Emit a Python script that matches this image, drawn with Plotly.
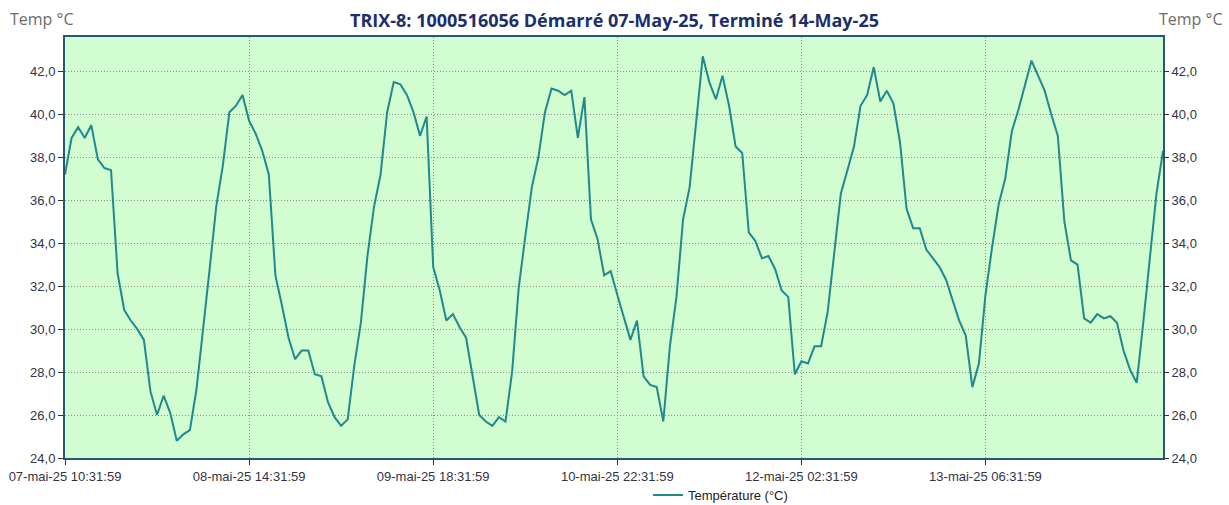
import pandas as pd
import plotly.graph_objects as go

# ---------------- data ----------------
start_time = "2025-05-07 10:31:59"
step_hours = 1

temp_day1 = [37.2, 38.9, 39.4, 38.9, 39.5, 37.9, 37.5, 37.4, 32.6, 30.9, 30.4, 30.0,
             29.5, 27.1, 26.0, 26.9, 26.1, 24.8, 25.1, 25.3, 27.2, 29.9, 32.8, 35.7]
temp_day2 = [37.6, 40.1, 40.4, 40.9, 39.7, 39.1, 38.3, 37.2, 32.5, 31.1, 29.6, 28.6,
             29.0, 29.0, 27.9, 27.8, 26.6, 25.9, 25.5, 25.8, 28.3, 30.3, 33.4, 35.7]
temp_day3 = [37.2, 40.1, 41.5, 41.4, 40.9, 40.1, 39.0, 39.9, 32.9, 31.8, 30.4, 30.7,
             30.1, 29.6, 27.8, 26.0, 25.7, 25.5, 25.9, 25.7, 28.0, 31.9, 34.3, 36.6]
temp_day4 = [38.0, 40.1, 41.2, 41.1, 40.9, 41.1, 38.9, 40.8, 35.1, 34.2, 32.5, 32.7,
             31.6, 30.6, 29.5, 30.4, 27.8, 27.4, 27.3, 25.7, 29.2, 31.5, 35.1, 36.6]
temp_day5 = [39.8, 42.7, 41.5, 40.7, 41.8, 40.4, 38.5, 38.2, 34.5, 34.1, 33.3, 33.4,
             32.8, 31.8, 31.5, 27.9, 28.5, 28.4, 29.2, 29.2, 30.8, 33.6, 36.3, 37.4]
temp_day6 = [38.5, 40.4, 40.9, 42.2, 40.6, 41.1, 40.5, 38.7, 35.6, 34.7, 34.7, 33.7,
             33.3, 32.9, 32.3, 31.3, 30.4, 29.7, 27.3, 28.4, 31.6, 33.8, 35.8, 37.0]
temp_day7 = [39.2, 40.2, 41.3, 42.5, 41.8, 41.1, 40.0, 39.0, 35.0, 33.2, 33.0, 30.5,
             30.3, 30.7, 30.5, 30.6, 30.3, 29.0, 28.1, 27.5, 30.3, 33.4, 36.3, 38.3]

temperatures = temp_day1 + temp_day2 + temp_day3 + temp_day4 + temp_day5 + temp_day6 + temp_day7

tick_times = ["2025-05-07 10:31:59", "2025-05-08 14:31:59", "2025-05-09 18:31:59",
              "2025-05-10 22:31:59", "2025-05-12 02:31:59", "2025-05-13 06:31:59"]
tick_labels = ["07-mai-25 10:31:59", "08-mai-25 14:31:59", "09-mai-25 18:31:59",
               "10-mai-25 22:31:59", "12-mai-25 02:31:59", "13-mai-25 06:31:59"]
y_ticks = [24, 26, 28, 30, 32, 34, 36, 38, 40, 42]

series_name = "Température (°C)"
title_text = "TRIX-8: 1000516056 Démarré 07-May-25, Terminé 14-May-25"
axis_title = "Temp °C"

times = pd.date_range(start=start_time, periods=len(temperatures), freq=f"{step_hours}h")

# ---------------- style ----------------
line_color = "#1f898d"
frame_color = "#2b5576"
plot_bg = "#d1fdd1"
grid_color = "#8c8c8c"
grid_dash = "1px,2px"
tick_font = dict(family="Liberation Sans Narrow, Arial Narrow, sans-serif", size=13, color="#333344")

fig = go.Figure()
fig.add_trace(go.Scatter(x=times, y=temperatures, mode="lines", name=series_name,
                         line=dict(color=line_color, width=2)))
fig.add_trace(go.Scatter(x=times, y=temperatures, mode="lines", yaxis="y2",
                         line=dict(color="rgba(0,0,0,0)", width=0), showlegend=False,
                         hoverinfo="skip"))

y_range = [24, 43.6]
fig.update_layout(
    width=1229, height=505,
    margin=dict(l=65, r=66, t=37, b=47, autoexpand=False),
    paper_bgcolor="white", plot_bgcolor=plot_bg,
    separators=", ",
    title=dict(text=f"<b>{title_text}</b>", x=0.5, xanchor="center", y=0.960, yanchor="middle",
               font=dict(family="Open Sans, sans-serif", size=18, color="#1b2f6b")),
    xaxis=dict(
        type="date", range=[times[0], times[-1]], automargin=False,
        tickmode="array", tickvals=pd.to_datetime(tick_times), ticktext=tick_labels,
        showgrid=True, gridcolor=grid_color, griddash=grid_dash, gridwidth=1,
        showline=True, mirror=True, linecolor=frame_color, linewidth=2,
        ticks="outside", ticklen=5, tickcolor="#333333", tickfont=tick_font,
        zeroline=False,
    ),
    yaxis=dict(
        range=y_range, tickmode="array", tickvals=y_ticks, tickformat=".1f", automargin=False,
        showgrid=True, gridcolor=grid_color, griddash=grid_dash, gridwidth=1,
        showline=True, mirror=True, linecolor=frame_color, linewidth=2,
        ticks="outside", ticklen=5, tickcolor="#333333", tickfont=tick_font,
        zeroline=False,
    ),
    yaxis2=dict(
        range=y_range, tickmode="array", tickvals=y_ticks, tickformat=".1f", automargin=False,
        overlaying="y", side="right", showgrid=False, zeroline=False,
        ticks="outside", ticklen=5, tickcolor="#333333", tickfont=tick_font,
        showline=False,
    ),
    legend=dict(orientation="h", x=0.597, xanchor="center", y=-0.088, yanchor="middle",
                font=dict(family="Liberation Sans Narrow, Arial Narrow, sans-serif", size=13,
                          color="#222222"),
                bgcolor="rgba(0,0,0,0)"),
    showlegend=True,
    annotations=[
        dict(text=axis_title, xref="paper", yref="paper", x=-0.052, y=1.0, xanchor="left",
             yanchor="bottom", yshift=5, showarrow=False,
             font=dict(family="Open Sans, sans-serif", size=16, color="#6b6b6b")),
        dict(text=axis_title, xref="paper", yref="paper", x=1.056, y=1.0, xanchor="right",
             yanchor="bottom", yshift=5, showarrow=False,
             font=dict(family="Open Sans, sans-serif", size=16, color="#6b6b6b")),
    ],
)

fig.write_html("out.html", config={"displayModeBar": False},
               post_script="document.body.style.margin='0px';")
